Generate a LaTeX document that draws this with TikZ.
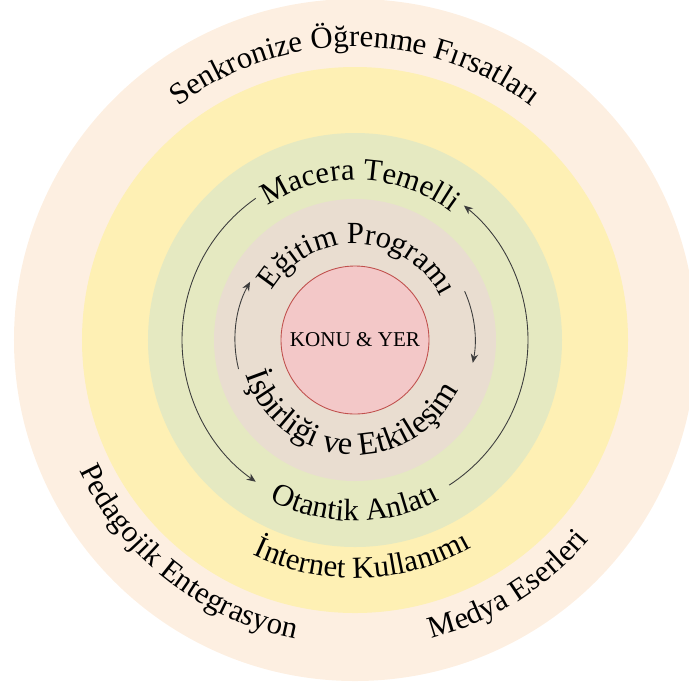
\documentclass[tikz,border=0pt]{standalone}
\usepackage{fontspec}
\setmainfont{Liberation Serif}
\usetikzlibrary{arrows.meta,decorations.text}
\definecolor{ringpeach}{RGB}{253,239,225}
\definecolor{ringyellow}{RGB}{254,240,180}
\definecolor{ringgreen}{RGB}{229,233,193}
\definecolor{ringbeige}{RGB}{233,221,208}
\definecolor{corefill}{RGB}{243,200,200}
\definecolor{coreline}{RGB}{192,80,77}
\definecolor{arrowgrey}{RGB}{60,60,60}
\newcommand\bandfont{\fontsize{17.5}{20}\selectfont}
\newcommand\widebandfont{\fontsize{18.5}{21}\selectfont}
\def\bandtext[#1](#2:#3:#4)#5{\path[decorate,decoration={text along path,text align=center,text={|#1|#5}}] (#2:#4) arc (#2:#3:#4);}
\tikzset{cyclearrow/.style={draw=arrowgrey, line width=0.5pt, -{Stealth[length=1.8mm,width=1.5mm]}}}

\begin{document}
\begin{tikzpicture}
		%%%%% START %%%%%
		\useasboundingbox (-7.10,-6.90) rectangle (6.68,6.80);
		
		\fill[ringpeach] (0,0) circle (6.82);
		\fill[ringyellow] (0,0) circle (5.46);
		\fill[ringgreen] (0,0) circle (4.14);
		\fill[ringbeige] (0,0) circle (2.82);
		\draw[draw=coreline, fill=corefill, line width=0.5pt] (0,0) circle (1.48);
		\node (konu) at (0,0) {\fontsize{12}{14}\selectfont KONU \& YER};
		
		\bandtext[\bandfont](170:10:5.86){Senkronize Öğrenme Fırsatları}
		\bandtext[\bandfont](168:8:3.20){Macera Temelli}
		\bandtext[\bandfont](168:8:1.92){Eğitim Programı}
		\bandtext[\widebandfont](186:346:2.30){İşbirliği ve Etkileşim}
		\bandtext[\bandfont](190:350:3.62){Otantik Anlatı}
		\bandtext[\bandfont](192:352:4.76){İnternet Kullanımı}
		\bandtext[\bandfont](152:312:6.10){Pedagojik Entegrasyon}
		\bandtext[\bandfont](222:382:6.16){Medya Eserleri}
		
		\draw[cyclearrow] (125:3.46) arc (125:235:3.46);
		\draw[cyclearrow] (-57:3.46) arc (-57:51:3.46);
		\draw[cyclearrow] (194:2.40) arc (194:151:2.40);
		\draw[cyclearrow] (24:2.40) arc (24:-11:2.40);
		
		%%%%% END %%%%%
	\end{tikzpicture}
\end{document}
